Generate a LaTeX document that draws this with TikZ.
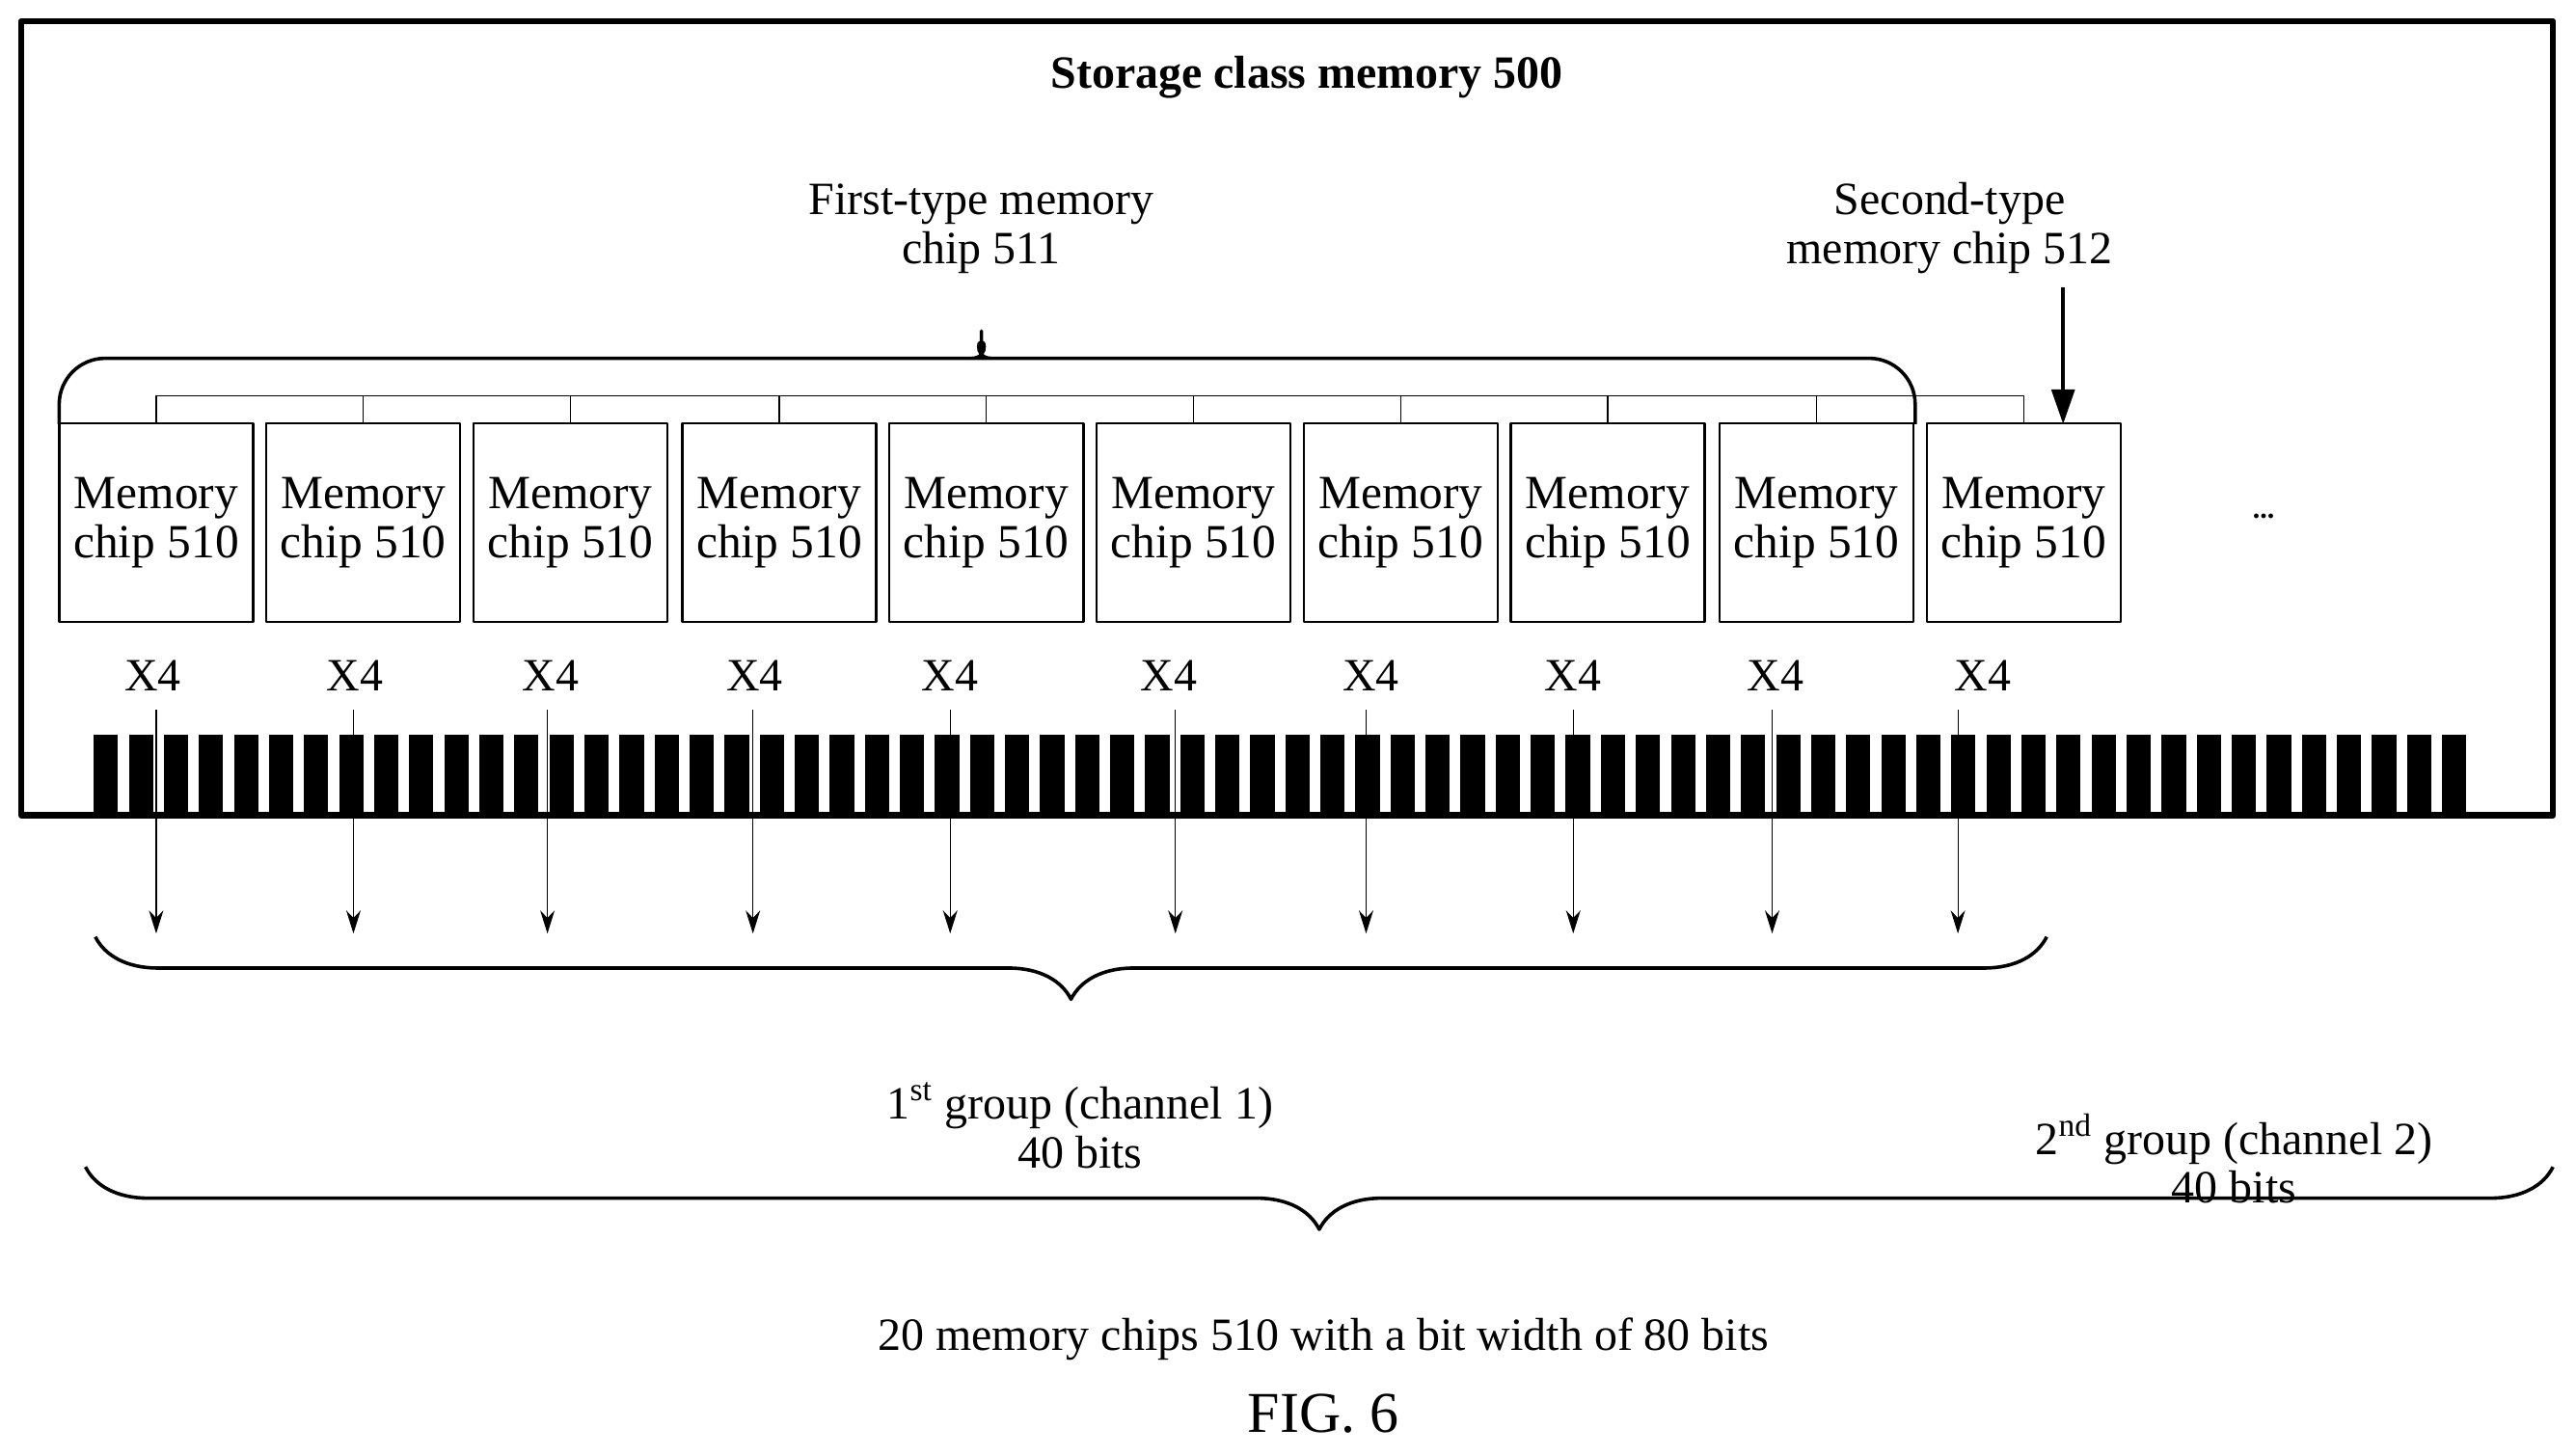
\documentclass[tikz,border=0pt]{standalone}
\usepackage{fontspec}
\setmainfont{Liberation Serif}
\usetikzlibrary{arrows.meta,positioning,calc,decorations.pathreplacing}
\tikzset{
chip/.style={draw,thick,minimum width=118*0.02cm,minimum height=121*0.02cm,inner sep=0pt,align=center,font=\fontsize{16.5}{17}\selectfont},
lbl/.style={align=center,font=\fontsize{16}{17}\selectfont,inner sep=1pt},
bigbrace/.style={decorate,very thick,decoration={brace,amplitude=#1}},
}
\begin{document}
\begin{tikzpicture}[x=0.02cm,y=-0.02cm,line join=round]
\useasboundingbox (0,0) rectangle (1567,885);
% frame
\draw[line width=2.2pt] (13,13) rectangle (1553,496);
\node[lbl,font=\fontsize{16}{17}\selectfont\bfseries] (title) at (795,47) {Storage class memory 500};
% chips
\foreach \i/\xx/\xl in {1/95/93,2/221/216,3/347/335,4/474/459,5/600/578,6/726/711,7/852/834,8/978/957,9/1105/1080,10/1231/1206}
{
\node[chip] (c\i) at (\xx,318) {Memory\\chip 510};
\node[lbl] (x\i) at (\xl,411) {X4};
}
\draw (c1.north)--++(0,-16) -| (c10.north);
\foreach \i in {2,...,9} \draw (c\i.north)--++(0,-16);
% brace over first-type chips
\coordinate (b1l) at (36,258);
\coordinate (b1r) at (1165,258);
\draw[very thick,rounded corners=28*0.02cm] (b1l)--(36,218)--(575,218) to[out=0,in=-90] (597,185) to[out=-90,in=180] (619,218)--(1165,218)--(b1r);
\node[lbl] (first) at (597,139) {First-type memory\\chip 511};
\node[lbl] (second) at (1186,139) {Second-type\\memory chip 512};
\coordinate (tip) at (1255,258);
\draw[very thick,-{Triangle[length=12pt,width=8pt]}] (1255,175)--(tip);
\node[lbl,font=\bfseries] (dots) at (1377,314) {...};
% pins
\foreach \k in {0,...,67}
\fill (57+\k*21.32,447) rectangle ++(14.8,49);
% data lines
\foreach \i/\xa in {1/95,2/215,3/333,4/458,5/578,6/715,7/831,8/957,9/1078,10/1191}
{
\coordinate (p\i) at (\xa,432);
\draw[-{Stealth[length=8pt,width=5pt]}] (p\i)--++(0,136);
}
% group braces
\draw[bigbrace=38*0.02cm] (1245,570) -- (58,570);
\node[lbl] (g1) at (657,685) {1\textsuperscript{st} group (channel 1)\\40 bits};
\node[lbl] (g2) at (1359,705) {2\textsuperscript{nd} group (channel 2)\\40 bits};
\draw[bigbrace=38*0.02cm] (1553,710) -- (52,710);
\node[lbl] (all) at (805,815) {20 memory chips 510 with a bit width of 80 bits};
\node[lbl,font=\fontsize{20}{22}\selectfont] (fig) at (805,860) {FIG. 6};
\end{tikzpicture}
\end{document}
